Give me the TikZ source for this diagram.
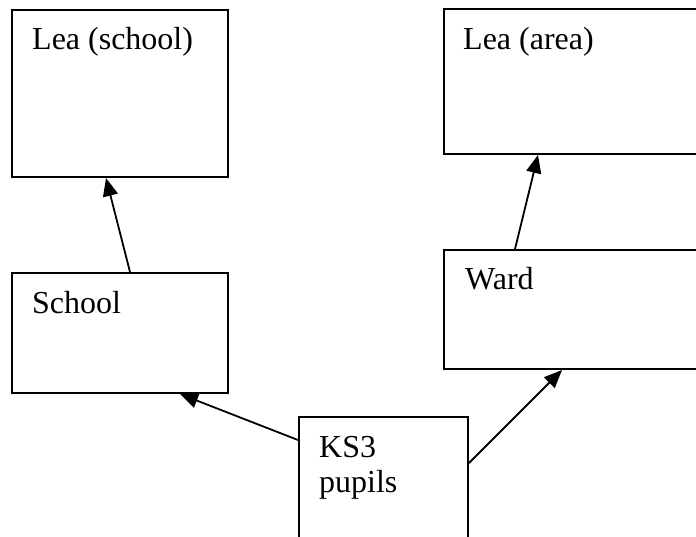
\documentclass[tikz,border=0pt]{standalone}
\usepackage{fontspec}
\setmainfont{Liberation Serif}
\usetikzlibrary{arrows.meta, positioning, calc}
\tikzset{
  box/.style={draw, line width=2pt, anchor=north west, inner sep=0pt},
  lbl/.style={anchor=base west, inner sep=0pt, font=\fontsize{32}{36}\selectfont},
  arr/.style={line width=1.8pt, -{Triangle[length=18pt, width=15pt]}}
}
\begin{document}
\begin{tikzpicture}[x=1pt, y=-1pt]
    \clip (0,0) rectangle (696,536);
    % Boxes
    \node[box, minimum width=216pt, minimum height=167pt] (leaschool) at (11,9) {};
    \node[box, minimum width=267pt, minimum height=145pt] (leaarea) at (443,8) {};
    \node[box, minimum width=216pt, minimum height=120pt] (school) at (11,272) {};
    \node[box, minimum width=267pt, minimum height=119pt] (ward) at (443,249) {};
    \node[box, minimum width=169pt, minimum height=134pt] (pupils) at (298,416) {};
    % Labels
    \node[lbl] (leaschooltxt) at ([xshift=21pt, yshift=-40pt]leaschool.north west) {Lea (school)};
    \node[lbl] (leaareatxt) at ([xshift=20pt, yshift=-41pt]leaarea.north west) {Lea (area)};
    \node[lbl] (schooltxt) at ([xshift=21pt, yshift=-41pt]school.north west) {School};
    \node[lbl] (wardtxt) at ([xshift=22pt, yshift=-40pt]ward.north west) {Ward};
    \node[lbl] (kstxt) at ([xshift=21pt, yshift=-41pt]pupils.north west) {KS3};
    \node[lbl] (pupilstxt) at ([yshift=-35pt]kstxt.base west) {pupils};
    % Arrows
    \draw[arr] ([xshift=119pt]school.north west) -- ([xshift=95pt]leaschool.south west);
    \draw[arr] ([xshift=72pt]ward.north west) -- ([xshift=95pt]leaarea.south west);
    \draw[arr] ([yshift=-24pt]pupils.north west) -- ([xshift=169pt]school.south west);
    \draw[arr] ([yshift=-47pt]pupils.north east) -- ([xshift=119pt]ward.south west);
\end{tikzpicture}
\end{document}
